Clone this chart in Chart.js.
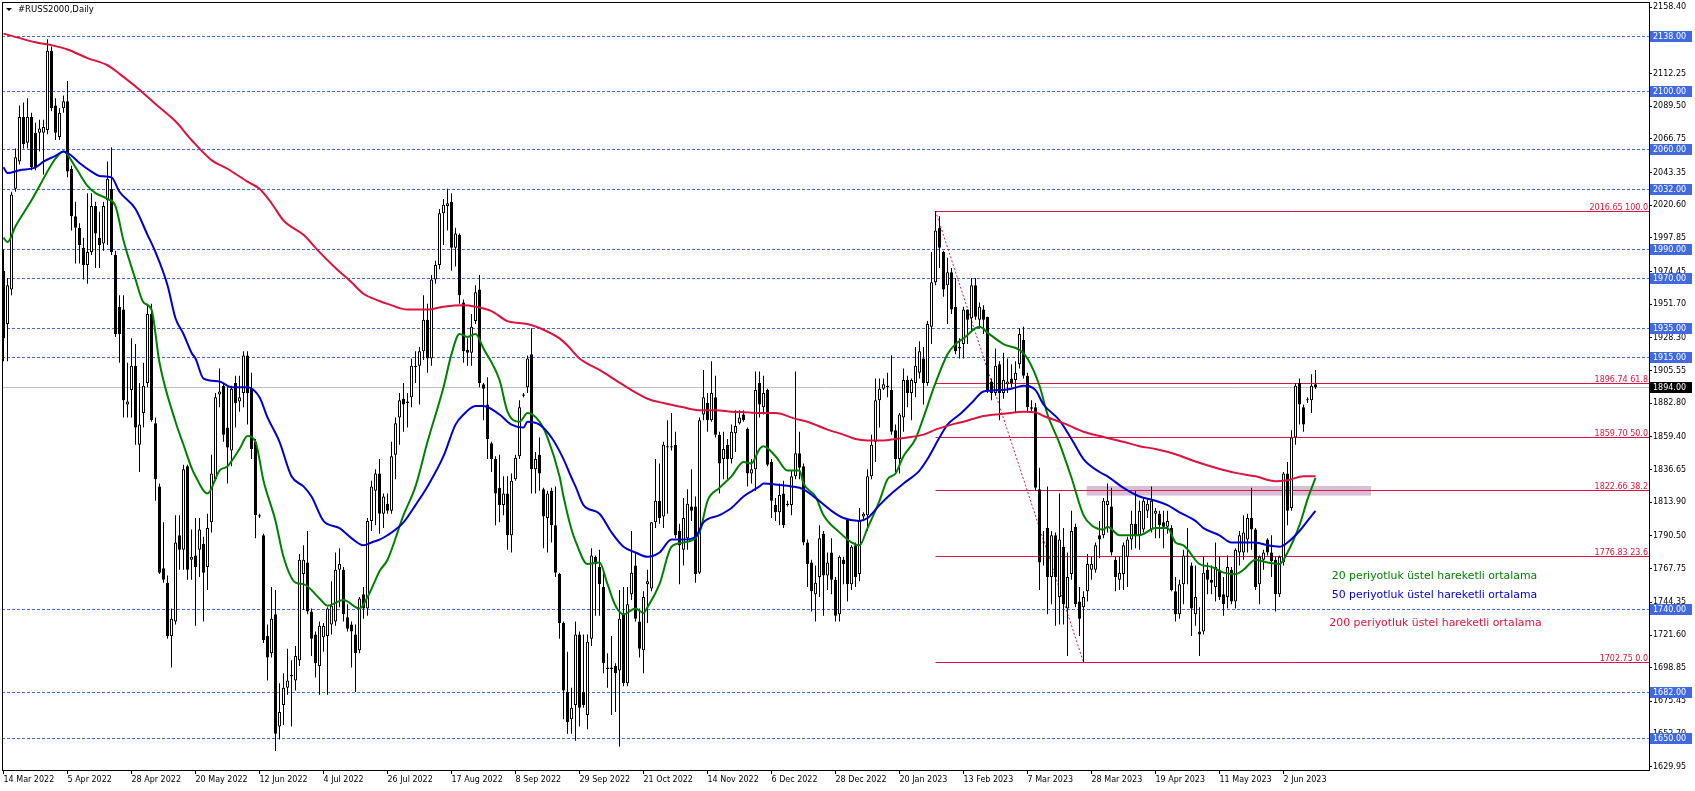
<!DOCTYPE html>
<html><head><meta charset="utf-8">
<script src="https://cdn.jsdelivr.net/npm/chart.js@4/dist/chart.umd.min.js"></script>
<style>html,body{margin:0;padding:0;background:#fff;overflow:hidden}canvas{display:block}</style>
</head><body>
<canvas id="c" width="1695" height="791"></canvas>
<script>
// ---------- DATA ----------
const openP = [1975,1938,1962,2032,2051,2082,2064,2082,2071,2071,2071,2073,2128,2090,2068,2088,2093,2046,2013,2005,
1991,1979,1988,2020,1998,1994,2024,2032,1986,1950,1948,1882,1892,1909,1854,1876,1897,1945,1869,1825,
1768,1758,1721,1731,1791,1781,1839,1774,1777,1781,1785,1769,1800,1830,1889,1895,1866,1850,1897,1884,
1890,1916,1893,1856,1805,1791,1721,1709,1736,1658,1673,1685,1694,1690,1704,1764,1772,1738,1722,1700,
1720,1721,1729,1731,1767,1767,1734,1729,1722,1711,1750,1740,1801,1822,1834,1806,1813,1808,1847,1873,
1886,1884,1887,1908,1909,1919,1941,1914,1969,1979,2015,2020,2023,1991,2000,1953,1920,1918,1940,1962,
1896,1882,1855,1844,1824,1812,1820,1791,1830,1846,1888,1894,1917,1837,1847,1823,1803,1822,1798,1764,
1730,1682,1663,1673,1722,1682,1666,1719,1776,1769,1755,1699,1699,1700,1697,1736,1688,1750,1770,1731,
1711,1757,1754,1800,1815,1804,1852,1853,1854,1794,1781,1789,1811,1811,1765,1875,1883,1871,1887,1861,
1844,1854,1844,1862,1869,1875,1865,1834,1837,1897,1880,1892,1842,1812,1807,1820,1813,1812,1832,1848,
1839,1786,1772,1750,1762,1792,1763,1779,1760,1736,1774,1802,1757,1784,1764,1804,1805,1832,1856,1885,
1893,1895,1892,1864,1844,1873,1899,1890,1897,1904,1914,1897,1936,1967,2005,1988,1965,1974,1950,1922,
1924,1948,1942,1965,1941,1948,1943,1898,1890,1910,1890,1896,1900,1899,1910,1927,1902,1880,1880,1823,
1786,1796,1762,1791,1748,1783,1740,1764,1797,1745,1741,1752,1767,1767,1791,1791,1812,1811,1774,1760,
1764,1776,1788,1799,1791,1795,1808,1795,1806,1806,1800,1797,1796,1752,1736,1757,1777,1770,1736,1724,
1724,1767,1760,1755,1767,1750,1748,1767,1745,1779,1779,1788,1803,1795,1757,1774,1788,1779,1774,1750,
1772,1834,1810,1859,1897,1880,1885,1885,1896];
const highP = [1990,1970,2030,2060,2090,2092,2095,2085,2078,2080,2080,2136,2131,2095,2088,2097,2107,2048,2023,2008,
1998,2029,2029,2023,2016,2023,2051,2061,1989,1958,1958,1911,1928,1924,1897,1911,1952,1952,1873,1827,
1800,1763,1740,1805,1805,1840,1840,1795,1803,1803,1790,1806,1847,1890,1907,1897,1894,1895,1902,1902,
1919,1919,1904,1858,1806,1792,1729,1755,1753,1688,1695,1712,1704,1714,1778,1784,1794,1740,1724,1731,
1730,1741,1759,1779,1782,1769,1743,1731,1729,1748,1755,1803,1829,1837,1844,1820,1820,1856,1873,1890,
1897,1890,1914,1919,1922,1958,1952,1972,1982,2018,2025,2032,2029,2005,2001,1955,1928,1945,1965,1972,
1897,1901,1856,1846,1847,1832,1832,1834,1847,1885,1890,1916,1935,1849,1859,1824,1822,1824,1825,1765,
1731,1710,1685,1731,1724,1722,1722,1782,1777,1781,1765,1709,1721,1702,1753,1755,1755,1794,1779,1740,
1752,1767,1800,1844,1841,1856,1871,1876,1863,1799,1817,1823,1837,1818,1873,1906,1890,1912,1902,1863,
1863,1858,1868,1878,1878,1878,1866,1844,1905,1905,1902,1893,1844,1817,1827,1829,1815,1836,1905,1863,
1841,1788,1774,1770,1798,1794,1779,1789,1762,1777,1776,1803,1784,1786,1810,1807,1837,1861,1900,1900,
1900,1904,1916,1868,1876,1907,1902,1900,1922,1926,1922,1940,1988,2016.65,2013,1989,1984,1977,1970,1928,
1950,1948,1970,1970,1953,1951,1943,1900,1921,1912,1918,1914,1910,1912,1935,1936,1904,1885,1883,1838,
1794,1825,1794,1793,1820,1796,1779,1808,1799,1755,1752,1778,1776,1786,1801,1817,1827,1824,1776,1776,
1786,1790,1808,1822,1815,1817,1817,1825,1810,1808,1808,1808,1798,1762,1760,1781,1796,1772,1770,1741,
1776,1772,1770,1786,1776,1762,1777,1769,1782,1794,1805,1806,1824,1796,1777,1781,1789,1791,1776,1777,
1835,1842,1864,1897,1900,1882,1887,1903,1906];
const lowP = [1912,1912,1958,2030,2049,2060,2060,2045,2045,2058,2042,2070,2086,2066,2066,2085,2040,2003,1980,1980,
1969,1966,1986,1977,1977,1989,1993,1986,1929,1911,1873,1873,1873,1854,1835,1866,1894,1870,1815,1764,
1758,1719,1699,1729,1767,1767,1760,1760,1728,1762,1731,1753,1793,1829,1880,1856,1827,1839,1866,1877,
1880,1868,1844,1789,1803,1716,1690,1706,1641,1649,1659,1680,1658,1683,1700,1739,1736,1707,1692,1680,
1710,1680,1722,1728,1741,1731,1724,1699,1682,1709,1733,1735,1794,1798,1792,1796,1806,1806,1830,1854,
1863,1866,1880,1897,1882,1913,1904,1909,1966,1976,1993,2003,1975,1978,1952,1911,1909,1909,1938,1894,
1871,1844,1835,1798,1800,1805,1781,1779,1829,1844,1887,1890,1820,1820,1822,1782,1779,1786,1762,1719,
1663,1653,1653,1648,1658,1671,1656,1714,1735,1735,1695,1685,1666,1668,1644,1686,1686,1746,1731,1706,
1695,1730,1752,1796,1799,1796,1806,1850,1789,1757,1770,1781,1801,1758,1764,1871,1863,1870,1859,1820,
1830,1830,1841,1849,1868,1870,1825,1827,1822,1873,1875,1839,1803,1801,1798,1796,1811,1805,1830,1830,
1784,1755,1738,1731,1748,1735,1753,1750,1731,1731,1757,1745,1753,1755,1759,1802,1794,1830,1842,1866,
1892,1887,1861,1835,1834,1863,1880,1871,1887,1900,1882,1895,1924,1965,1977,1957,1938,1945,1917,1914,
1914,1924,1933,1941,1935,1931,1890,1885,1888,1871,1886,1890,1894,1876,1907,1900,1877,1876,1822,1753,
1770,1736,1743,1728,1729,1729,1707,1760,1741,1721,1702.75,1745,1760,1765,1775,1789,1793,1777,1752,1753,
1753,1755,1781,1782,1781,1793,1803,1793,1789,1789,1782,1792,1752,1731,1733,1743,1757,1721,1728,1707,
1722,1750,1750,1745,1746,1735,1740,1743,1740,1770,1774,1779,1781,1753,1743,1767,1777,1762,1738,1748,
1770,1798,1808,1854,1868,1863,1883,1876,1893];
const closeP = [1928,1965,2028,2054,2082,2063,2082,2047,2047,2074,2075,2128,2088,2071,2085,2093,2044,2013,2005,1993,
1979,1988,2020,2001,1993,2020,2039,1988,1931,1931,1885,1884,1909,1866,1868,1895,1945,1871,1830,1765,
1760,1721,1733,1786,1781,1837,1767,1776,1769,1795,1765,1796,1834,1887,1891,1861,1852,1893,1883,1887,
1916,1890,1851,1805,1804,1718,1706,1733,1653,1668,1685,1690,1693,1707,1774,1774,1738,1719,1702,1728,
1728,1740,1742,1767,1771,1736,1726,1724,1709,1747,1740,1801,1825,1834,1806,1818,1808,1846,1869,1885,
1882,1883,1909,1909,1919,1941,1914,1969,1979,2015,2021,2022,1991,2001,1958,1919,1918,1936,1960,1897,
1893,1858,1844,1820,1812,1820,1791,1829,1845,1880,1889,1914,1837,1844,1834,1804,1820,1798,1765,1730,
1683,1661,1671,1722,1671,1673,1717,1777,1771,1757,1702,1698,1698,1695,1733,1688,1743,1765,1733,1712,
1748,1759,1800,1815,1803,1854,1853,1852,1791,1784,1803,1813,1808,1764,1871,1887,1871,1890,1861,1841,
1851,1844,1863,1867,1873,1871,1834,1837,1892,1882,1890,1840,1815,1807,1819,1798,1812,1832,1848,1838,
1786,1771,1752,1758,1789,1763,1772,1760,1735,1776,1771,1757,1783,1762,1801,1806,1832,1854,1885,1893,
1896,1894,1863,1844,1875,1899,1890,1899,1909,1919,1897,1938,1967,2003,1991,1962,1974,1948,1919,1921,
1948,1941,1965,1943,1950,1941,1892,1890,1909,1890,1899,1898,1897,1904,1931,1902,1880,1879,1824,1772,
1786,1762,1791,1762,1788,1743,1762,1794,1743,1733,1748,1771,1771,1784,1788,1815,1815,1779,1762,1765,
1784,1788,1799,1791,1808,1815,1813,1815,1808,1798,1797,1801,1753,1736,1757,1777,1776,1740,1748,1722,
1765,1760,1758,1769,1748,1743,1769,1745,1781,1791,1793,1803,1795,1755,1776,1779,1779,1773,1750,1776,
1834,1808,1859,1895,1882,1868,1885,1895,1894];

const ema20Bars = [0,1,3,7,9,12,13,15,18,21,23,26,28,30,33,35,37,39,43,45,47,48,51,54,56,59,61,63,65,68,70,73,75,79,81,85,89,91,93,94,96,100,103,106,110,112,114,116,118,120,124,126,129,131,134,136,139,140,142,143,146,149,151,153,155,158,160,161,164,167,170,174,176,179,182,185,187,189,190,193,196,199,200,203,205,209,212,214,216,219,221,223,225,228,230,233,236,238,240,244,246,250,254,256,259,261,264,267,270,272,275,276,279,281,284,288,291,293,295,299,302,305,308,310,313,316,319,321,324,326,328];
const ema20Vals = [1998,1995,2006,2024,2034,2049,2053,2058,2047,2034,2029,2025,2020,1996,1969,1953,1948,1911,1870,1854,1838,1832,1820,1836,1839,1851,1860,1856,1829,1801,1776,1758,1757,1747,1742,1746,1740,1748,1760,1766,1774,1805,1825,1856,1894,1917,1931,1929,1931,1921,1899,1877,1870,1876,1870,1859,1832,1818,1795,1787,1771,1772,1757,1742,1736,1740,1737,1741,1757,1783,1786,1793,1815,1824,1832,1842,1841,1851,1853,1846,1836,1836,1827,1818,1805,1793,1786,1784,1796,1815,1830,1834,1846,1858,1873,1897,1917,1924,1928,1936,1932,1924,1920,1914,1895,1875,1855,1831,1805,1798,1795,1797,1791,1791,1791,1796,1796,1786,1784,1771,1769,1765,1764,1767,1774,1772,1771,1779,1798,1816,1831];
const ema50Bars = [0,1,4,8,10,13,15,17,19,22,24,27,29,33,36,38,41,43,45,47,48,50,54,57,61,64,66,69,72,75,77,80,84,87,90,92,94,96,100,103,106,110,113,115,118,120,124,127,130,131,134,137,140,142,143,145,149,152,155,158,161,164,167,170,173,175,179,182,185,189,190,194,197,200,203,207,210,214,216,219,222,225,229,231,234,236,239,242,245,249,252,255,258,260,264,267,270,274,276,280,284,288,291,294,298,300,304,307,310,313,316,319,321,324,326,328];
const ema50Vals = [2047,2043,2045,2047,2051,2055,2058,2055,2050,2044,2041,2040,2030,2018,2000,1988,1965,1942,1931,1918,1914,1900,1898,1894,1894,1887,1873,1856,1832,1825,1818,1801,1796,1789,1784,1786,1788,1791,1800,1812,1825,1846,1868,1875,1881,1881,1875,1868,1866,1870,1868,1859,1844,1831,1825,1812,1806,1793,1783,1779,1776,1779,1788,1788,1790,1800,1805,1810,1818,1825,1827,1826,1825,1823,1817,1808,1803,1801,1803,1812,1820,1827,1836,1844,1859,1868,1875,1883,1891,1892,1893,1895,1892,1882,1871,1858,1844,1835,1832,1824,1818,1815,1812,1807,1801,1796,1791,1786,1786,1786,1784,1783,1786,1794,1801,1808];
const ema200Bars = [0,8,12,16,21,26,29,34,38,43,47,52,56,61,64,67,70,75,79,83,87,90,94,96,101,106,110,115,118,122,126,131,135,139,141,144,149,153,157,161,165,170,174,178,182,186,189,193,198,201,206,210,213,216,220,223,226,230,233,237,240,245,250,255,258,260,265,270,275,280,284,288,293,298,303,308,313,318,321,325,328];
const ema200Vals = [2140,2134,2132,2129,2123,2118,2112,2101,2091,2079,2066,2052,2046,2037,2032,2022,2010,2000,1988,1977,1967,1959,1954,1952,1948,1948,1950,1951,1950,1947,1940,1938,1934,1928,1923,1914,1906,1899,1892,1886,1883,1880,1878,1878,1877,1876.5,1876,1876,1872,1870,1864.5,1861,1858,1857,1857,1858,1859,1861,1864.5,1868,1870,1874,1875.5,1877,1876.5,1874,1869,1863,1859.4,1856,1853,1851,1847.4,1842.3,1838,1834.4,1832,1828.6,1829.3,1832,1832];

const xTickLabels = ['14 Mar 2022','5 Apr 2022','28 Apr 2022','20 May 2022','12 Jun 2022','4 Jul 2022','26 Jul 2022','17 Aug 2022','8 Sep 2022','29 Sep 2022','21 Oct 2022','14 Nov 2022','6 Dec 2022','28 Dec 2022','20 Jan 2023','13 Feb 2023','7 Mar 2023','28 Mar 2023','19 Apr 2023','11 May 2023','2 Jun 2023'];
const xTickStep = 16;
const yTickValues = [2158.40,2135.65,2112.25,2089.50,2066.75,2043.35,2020.60,1997.85,1974.45,1951.70,1928.30,1905.55,1882.80,1859.40,1836.65,1813.90,1790.50,1767.75,1744.35,1721.60,1698.85,1675.45,1652.70,1629.95];
const levelValues = [2138,2100,2060,2032,1990,1970,1935,1915,1740,1682,1650];
const currentPrice = 1894;
const fibValues = [2016.65,1896.74,1859.70,1822.66,1776.83,1702.75];
const fibRatios = ['100.0','61.8','50.0','38.2','23.6','0.0'];
const fibStartBar = 233;
const trendBars = [233,270];
const trendValues = [2016.65,1702.75];
const zoneBars = [270.8,341.9];
const zoneValues = [1818.6,1825.3];
const noteTexts = ['20 periyotluk üstel hareketli ortalama','50 periyotluk üstel hareketli ortalama','200 periyotluk üstel hareketli ortalama'];
const noteBars = [332.05,332.05,331.45];
const noteValues = [1762.2,1749.3,1729.8];
const noteColors = ['#008000','#0000CD','#DC143C'];
const titleText = '#RUSS2000,Daily';

// ---------- CHART ----------
const FONT = "'DejaVu Sans', sans-serif";
Chart.defaults.font.family = FONT;
Chart.defaults.font.size = 8;
Chart.defaults.color = '#000';

const idx = openP.map((_, i) => i);
const wickData = idx.map(i => ({x: i, y: [Math.min(lowP[i], openP[i], closeP[i]), Math.max(highP[i], openP[i], closeP[i])]}));
const bodyData = idx.map(i => ({x: i, y: [openP[i], closeP[i]]}));
const bodyFill = idx.map(i => closeP[i] >= openP[i] ? '#ffffff' : '#000000');
const pts = (b, v) => b.map((x, k) => ({x: x, y: v[k]}));

const X_MIN = -0.375, X_MAX = -0.375 + 1647 / 4;
const Y_MIN = 1627.7, Y_MAX = 2162.0;

const CROSS = 0.5;
const bgPlugin = {
  id: 'bg',
  beforeDatasetsDraw(chart) {
    const {ctx, chartArea: a, scales: {x, y}} = chart;
    ctx.save();
    ctx.beginPath(); ctx.rect(a.left, a.top, a.right - a.left, a.bottom - a.top); ctx.clip();
    const zx1 = x.getPixelForValue(zoneBars[0]), zx2 = x.getPixelForValue(zoneBars[1]);
    const zy1 = y.getPixelForValue(zoneValues[1]), zy2 = y.getPixelForValue(zoneValues[0]);
    ctx.fillStyle = '#D8BFD8';
    ctx.fillRect(zx1, zy1, zx2 - zx1, zy2 - zy1);
    ctx.lineWidth = 1;
    ctx.strokeStyle = '#4169E1';
    ctx.setLineDash([3, 2]);
    levelValues.forEach(v => {
      const py = Math.round(y.getPixelForValue(v)) + CROSS;
      ctx.beginPath(); ctx.moveTo(a.left, py); ctx.lineTo(a.right, py); ctx.stroke();
    });
    ctx.setLineDash([]);
    ctx.strokeStyle = '#C0C0C0';
    let py = Math.round(y.getPixelForValue(currentPrice)) + CROSS;
    ctx.beginPath(); ctx.moveTo(a.left, py); ctx.lineTo(a.right, py); ctx.stroke();
    ctx.strokeStyle = '#DC143C';
    const fx = x.getPixelForValue(fibStartBar);
    fibValues.forEach(v => {
      const fy = Math.round(y.getPixelForValue(v)) + CROSS;
      ctx.beginPath(); ctx.moveTo(fx, fy); ctx.lineTo(a.right, fy); ctx.stroke();
    });
    ctx.setLineDash([2, 2]);
    ctx.beginPath();
    ctx.moveTo(x.getPixelForValue(trendBars[0]), y.getPixelForValue(trendValues[0]));
    ctx.lineTo(x.getPixelForValue(trendBars[1]), y.getPixelForValue(trendValues[1]));
    ctx.stroke();
    ctx.setLineDash([]);
    ctx.restore();
  },
  afterDraw(chart) {
    const {ctx, chartArea: a, scales: {x, y}} = chart;
    ctx.save();
    ctx.strokeStyle = '#000'; ctx.lineWidth = 1;
    ctx.strokeRect(a.left + 0.5, a.top + 0.5, a.right - a.left, a.bottom - a.top);
    ctx.font = '8px ' + FONT;
    ctx.fillStyle = '#DC143C';
    ctx.textAlign = 'right'; ctx.textBaseline = 'alphabetic';
    fibValues.forEach((v, k) => {
      const fy = Math.round(y.getPixelForValue(v));
      ctx.fillText(v.toFixed(2) + ' ' + fibRatios[k], a.right - 1, fy - 1);
    });
    ctx.font = '10.9px ' + FONT;
    ctx.textAlign = 'left'; ctx.textBaseline = 'middle';
    noteTexts.forEach((t, k) => {
      ctx.fillStyle = noteColors[k];
      ctx.fillText(t, x.getPixelForValue(noteBars[k]), y.getPixelForValue(noteValues[k]));
    });
    ctx.font = '8px ' + FONT;
    const box = (v, bg) => {
      const by = y.getPixelForValue(v);
      ctx.fillStyle = bg;
      ctx.fillRect(a.right + 1, Math.round(by) - 5, 42, 11);
      ctx.fillStyle = '#fff';
      ctx.textAlign = 'left'; ctx.textBaseline = 'middle';
      ctx.fillText(v.toFixed(2), a.right + 4, Math.round(by) + 0.5);
    };
    levelValues.forEach(v => box(v, '#4169E1'));
    box(currentPrice, '#000');
    ctx.fillStyle = '#000';
    ctx.beginPath(); ctx.moveTo(6, 8); ctx.lineTo(12, 8); ctx.lineTo(9, 11); ctx.closePath(); ctx.fill();
    ctx.font = '8.5px ' + FONT;
    ctx.textAlign = 'left'; ctx.textBaseline = 'middle';
    ctx.fillText(titleText, 18, 10);
    ctx.restore();
  }
};

new Chart(document.getElementById('c'), {
  type: 'bar',
  data: {
    datasets: [
      {type: 'bar', data: wickData, backgroundColor: '#000', borderWidth: 0, barThickness: 1, grouped: false, inflateAmount: 0, order: 3},
      {type: 'bar', data: bodyData, backgroundColor: bodyFill, borderColor: '#000', borderWidth: 1, borderSkipped: false, barThickness: 3, grouped: false, inflateAmount: 0, minBarLength: 1, order: 2},
      {type: 'line', data: pts(ema200Bars, ema200Vals), borderColor: '#DC143C', borderWidth: 2, pointRadius: 0, cubicInterpolationMode: 'monotone', order: 1},
      {type: 'line', data: pts(ema50Bars, ema50Vals), borderColor: '#0000CD', borderWidth: 2, pointRadius: 0, cubicInterpolationMode: 'monotone', order: 1},
      {type: 'line', data: pts(ema20Bars, ema20Vals), borderColor: '#008000', borderWidth: 2, pointRadius: 0, cubicInterpolationMode: 'monotone', order: 1}
    ]
  },
  options: {
    responsive: false, animation: false, events: [],
    layout: {padding: {left: 2, top: 2, right: 0, bottom: 0}},
    plugins: {legend: {display: false}, tooltip: {enabled: false}},
    scales: {
      x: {
        type: 'linear', min: X_MIN, max: X_MAX, offset: false,
        grid: {display: true, drawOnChartArea: false, drawTicks: true, tickLength: 4, color: '#000', offset: false},
        border: {display: false},
        ticks: {autoSkip: false, maxRotation: 0, minRotation: 0, align: 'start', padding: 1, color: '#000', font: {size: 8},
          callback: v => xTickLabels[Math.round(v / xTickStep)]},
        afterBuildTicks: s => { s.ticks = xTickLabels.map((_, k) => ({value: k * xTickStep})); },
        afterFit: s => { s.height = 21; s.paddingLeft = 0; s.paddingRight = 0; }
      },
      y: {
        type: 'linear', position: 'right', min: Y_MIN, max: Y_MAX, beginAtZero: false,
        grid: {display: true, drawOnChartArea: false, drawTicks: true, tickLength: 3, color: '#000'},
        border: {display: false},
        ticks: {autoSkip: false, padding: 1, color: '#000', font: {size: 8}, callback: v => Number(v).toFixed(2)},
        afterBuildTicks: s => { s.ticks = yTickValues.map(v => ({value: v})); },
        afterFit: s => { s.width = 46; s.paddingTop = 0; s.paddingBottom = 0; }
      }
    }
  },
  plugins: [bgPlugin]
});
</script>
</body></html>
